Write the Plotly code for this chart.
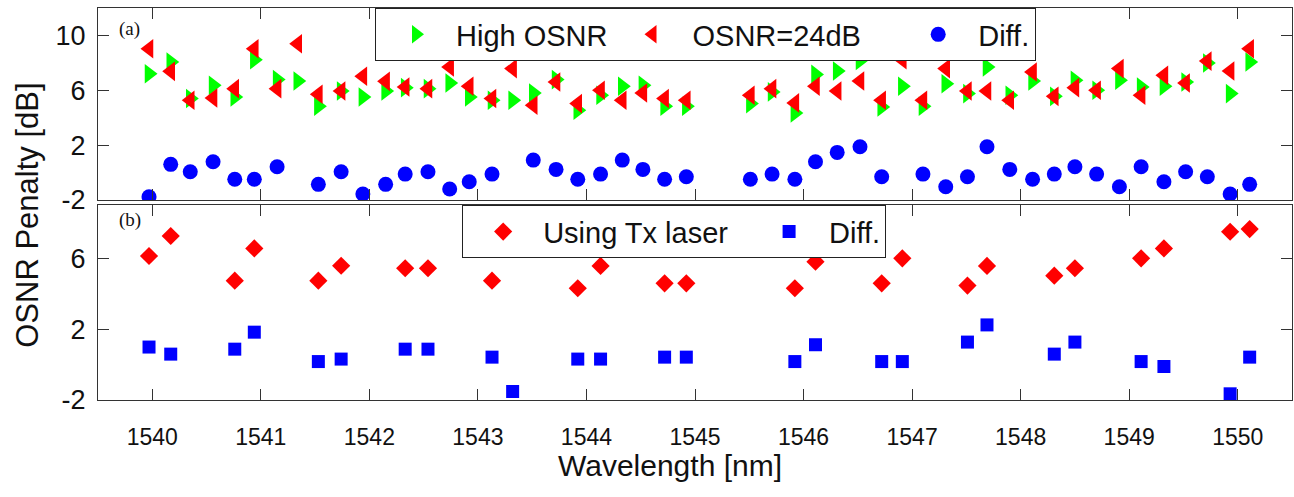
import plotly.graph_objects as go

# ---- data ----
wl = [1539.97, 1540.17, 1540.35, 1540.56, 1540.76, 1540.94, 1541.15, 1541.34, 1541.53, 1541.74,
      1541.94, 1542.15, 1542.33, 1542.54, 1542.74, 1542.92, 1543.13, 1543.32, 1543.51, 1543.72,
      1543.92, 1544.13, 1544.33, 1544.52, 1544.72, 1544.92,
      1545.51, 1545.71, 1545.92, 1546.11, 1546.31, 1546.52, 1546.72, 1546.91, 1547.10, 1547.31,
      1547.51, 1547.69, 1547.90, 1548.11, 1548.31, 1548.50, 1548.70, 1548.91, 1549.11, 1549.32,
      1549.52, 1549.72, 1549.93, 1550.11]

high_osnr = [7.21, 8.06, 5.40, 6.36, 5.51, 8.23, 6.78, 6.68, 4.84, 5.95,
             5.51, 5.95, 6.19, 6.12, 6.53, 5.51, 5.27, 5.27, 5.80, 6.78,
             4.55, 5.64, 6.29, 6.36, 4.84, 4.84,
             5.03, 5.88, 4.35, 7.16, 7.41, 8.18, 4.79, 6.29, 4.84, 6.48,
             5.76, 7.70, 5.64, 6.68, 5.56, 6.73, 6.00, 6.73, 6.24, 6.29,
             6.60, 7.99, 5.76, 8.06]

osnr_24 = [9.03, 7.38, 5.27, 5.44, 6.12, 9.03, 6.12, 9.39, 5.71, 5.95,
           7.02, 6.65, 6.24, 6.12, 7.70, 6.29, 5.40, 7.58, 4.91, 6.60,
           5.03, 6.00, 5.27, 5.80, 5.40, 5.27,
           5.64, 6.12, 5.08, 6.29, 5.95, 6.68, 5.27, 8.23, 5.27, 7.58,
           5.95, 5.95, 5.27, 7.33, 5.56, 6.19, 6.00, 7.58, 5.64, 7.09,
           6.53, 8.13, 7.41, 9.03]

diff_a = [-1.76, 0.60, 0.06, 0.79, -0.49, -0.49, 0.42, None, -0.86, 0.06,
          -1.56, -0.86, -0.11, 0.06, -1.20, -0.67, -0.11, None, 0.91, 0.23,
          -0.49, -0.11, 0.91, 0.23, -0.49, -0.30,
          -0.49, -0.11, -0.49, 0.79, 1.47, 1.88, -0.30, None, -0.11, -1.03,
          -0.30, 1.88, 0.23, -0.49, -0.11, 0.42, -0.11, -1.03, 0.42, -0.67,
          0.06, -0.30, -1.56, -0.86]

wl_b = [1539.97, 1540.17, 1540.76, 1540.94, 1541.53, 1541.74, 1542.33, 1542.54, 1543.13, 1543.32,
        1543.92, 1544.13, 1544.72, 1544.92, 1545.92, 1546.11, 1546.72, 1546.91, 1547.51, 1547.69,
        1548.31, 1548.50, 1549.11, 1549.32, 1549.93, 1550.11]

tx_laser = [6.13, 7.26, 4.74, 6.56, 4.74, 5.58, 5.44, 5.44, 4.74, 6.70,
            4.31, 5.57, 4.59, 4.59, 4.31, 5.81, 4.59, 6.00, 4.46, 5.57,
            5.02, 5.44, 6.00, 6.56, 7.50, 7.65]

diff_b = [0.99, 0.59, 0.87, 1.83, 0.17, 0.31, 0.87, 0.87, 0.42, -1.52,
          0.31, 0.31, 0.42, 0.42, 0.17, 1.12, 0.17, 0.17, 1.27, 2.24,
          0.59, 1.27, 0.17, -0.11, -1.65, 0.42]

x_ticks = [1540, 1541, 1542, 1543, 1544, 1545, 1546, 1547, 1548, 1549, 1550]
ya_ticks = [-2, 2, 6, 10]
ya_text = ["-2", "2", "6", "10"]
yb_ticks = [-2, 2, 6]
yb_text = ["-2", "2", "6"]

GREEN, RED, BLUE = "#00ff00", "#ff0000", "#0000ff"
AX = "#333333"
SANS = "Liberation Sans, Arial, sans-serif"
NB = "\u00a0"

fig = go.Figure()

fig.add_trace(go.Scatter(x=wl, y=high_osnr, mode="markers", name="High OSNR",
                         marker=dict(symbol="triangle-right", size=17, color=GREEN),
                         xaxis="x", yaxis="y", legend="legend"))
fig.add_trace(go.Scatter(x=wl, y=osnr_24, mode="markers", name="OSNR=24dB" + NB * 4,
                         marker=dict(symbol="triangle-left", size=17, color=RED),
                         xaxis="x", yaxis="y", legend="legend"))
fig.add_trace(go.Scatter(x=wl, y=diff_a, mode="markers", name="Diff.",
                         marker=dict(symbol="circle", size=15, color=BLUE),
                         xaxis="x", yaxis="y", legend="legend"))

fig.add_trace(go.Scatter(x=wl_b, y=tx_laser, mode="markers", name="Using Tx laser" + NB * 2,
                         marker=dict(symbol="diamond", size=14, color=RED),
                         xaxis="x2", yaxis="y2", legend="legend2"))
fig.add_trace(go.Scatter(x=wl_b, y=diff_b, mode="markers", name="Diff.",
                         marker=dict(symbol="square", size=13, color=BLUE),
                         xaxis="x2", yaxis="y2", legend="legend2"))

common_x = dict(range=[1539.5, 1550.5], tickvals=x_ticks, ticks="inside", ticklen=11,
                tickcolor=AX, showline=True, linecolor=AX, linewidth=1, mirror="ticks",
                showgrid=False, zeroline=False)
common_y = dict(ticks="inside", ticklen=11, tickcolor=AX, showline=True, linecolor=AX,
                linewidth=1, mirror="ticks", showgrid=False, zeroline=False,
                tickfont=dict(family=SANS, size=27, color="#111"), ticklabelstandoff=6)

legend_font = dict(family=SANS, size=29, color="#111")

fig.update_layout(
    width=1294, height=497,
    margin=dict(l=98, r=2, t=8, b=97),
    paper_bgcolor="white", plot_bgcolor="white",
    xaxis=dict(domain=[0, 1], anchor="y", showticklabels=False, **common_x),
    yaxis=dict(domain=[0.5102, 1.0], anchor="x", range=[-2, 12], tickvals=ya_ticks,
               ticktext=ya_text, **common_y),
    xaxis2=dict(domain=[0, 1], anchor="y2", showticklabels=True,
                tickfont=dict(family=SANS, size=23, color="#111"), ticklabelstandoff=16,
                **common_x),
    yaxis2=dict(domain=[0.0, 0.497], anchor="x2", range=[-2, 9], tickvals=yb_ticks,
                ticktext=yb_text, **common_y),
    legend=dict(orientation="h", x=0.232, xanchor="left", y=1.0, yanchor="top",
                bgcolor="white", bordercolor="#222", borderwidth=1,
                font=legend_font, itemwidth=70),
    legend2=dict(orientation="h", x=0.305, xanchor="left", y=0.497, yanchor="top",
                 bgcolor="white", bordercolor="#222", borderwidth=1,
                 font=legend_font, itemwidth=70),
    annotations=[
        dict(text="OSNR Penalty [dB]", xref="paper", yref="paper", x=-0.0586, y=0.47,
             xanchor="center", yanchor="middle", textangle=-90, showarrow=False,
             font=dict(family=SANS, size=31, color="#111")),
        dict(text="Wavelength [nm]", xref="paper", yref="paper", x=0.479, y=-0.168,
             xanchor="center", yanchor="middle", showarrow=False,
             font=dict(family=SANS, size=30, color="#111")),
        dict(text="(a)", xref="paper", yref="paper", x=(117 - 98) / 1194, y=(400 - 29) / 392,
             xanchor="left", yanchor="middle", showarrow=False,
             font=dict(family="Liberation Serif, Times New Roman, serif", size=19, color="#111")),
        dict(text="(b)", xref="paper", yref="paper", x=(117 - 98) / 1194, y=(400 - 220) / 392,
             xanchor="left", yanchor="middle", showarrow=False,
             font=dict(family="Liberation Serif, Times New Roman, serif", size=19, color="#111")),
    ],
)

fig.write_html("out.html")
